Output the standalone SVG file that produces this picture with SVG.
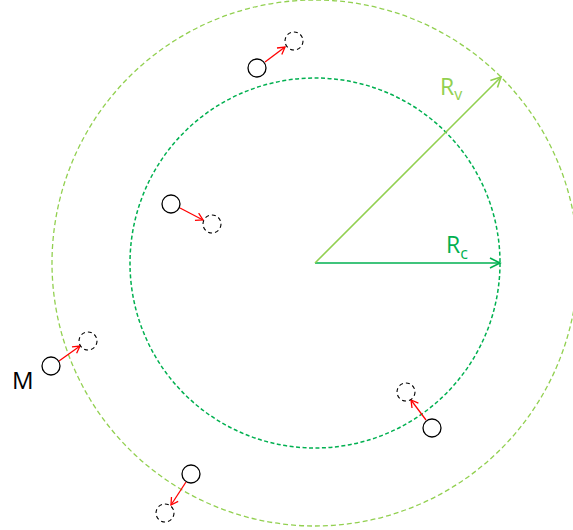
<svg xmlns="http://www.w3.org/2000/svg" width="573" height="530" viewBox="0 0 573 530">
<defs>
<style>
.solid{fill:#fff;stroke:#000;stroke-width:1.3}
.ghost{fill:none;stroke:#000;stroke-width:1.1;stroke-dasharray:4 3}
.move{stroke:#ff0000;stroke-width:1.3;fill:none;marker-end:url(#ar)}
.lbl{font-family:"Open Sans","Liberation Sans",sans-serif}
</style>
<marker id="ar" markerWidth="10" markerHeight="10" refX="8" refY="5" orient="auto" markerUnits="userSpaceOnUse">
<path d="M1,1 L8,5 L1,9" fill="none" stroke="#ff0000" stroke-width="1.3"/>
</marker>
<marker id="ag" markerWidth="14" markerHeight="14" refX="12" refY="7" orient="auto" markerUnits="userSpaceOnUse">
<path d="M2,2 L12,7 L2,12" fill="none" stroke="#00B050" stroke-width="1.6"/>
</marker>
<marker id="alg" markerWidth="14" markerHeight="14" refX="12" refY="7" orient="auto" markerUnits="userSpaceOnUse">
<path d="M2,2 L12,7 L2,12" fill="none" stroke="#92D050" stroke-width="1.6"/>
</marker>
</defs>
<g id="outer-circle"><circle cx="315" cy="263" r="263" fill="none" stroke="#92D050" stroke-width="1.3" stroke-dasharray="5 3"/></g>
<g id="inner-circle"><circle cx="315" cy="263" r="185" fill="none" stroke="#00B050" stroke-width="1.5" stroke-dasharray="4 2.5"/></g>
<g id="connectors">
<line x1="315" y1="263" x2="500" y2="263" stroke="#00B050" stroke-width="1.6" marker-end="url(#ag)"/>
<line x1="315" y1="263" x2="501" y2="77" stroke="#92D050" stroke-width="1.6" marker-end="url(#alg)"/>
<line class="move" x1="265" y1="62" x2="285" y2="47"/>
<line class="move" x1="180" y1="208" x2="203" y2="220"/>
<line class="move" x1="59" y1="361" x2="80" y2="346"/>
<line class="move" x1="426" y1="420" x2="411" y2="400"/>
<line class="move" x1="186" y1="482" x2="171" y2="505"/>
</g>
<g id="p1"><circle class="solid" cx="257" cy="68" r="9"/><circle class="ghost" cx="294" cy="41" r="9"/></g>
<g id="p2"><circle class="solid" cx="171" cy="204" r="9"/><circle class="ghost" cx="212" cy="224" r="9"/></g>
<g id="p3"><circle class="solid" cx="51" cy="366" r="9"/><circle class="ghost" cx="88" cy="341" r="9"/>
<text class="lbl" x="12" y="389" font-size="24" fill="#000">M</text></g>
<g id="p4"><circle class="solid" cx="432" cy="428" r="9"/><circle class="ghost" cx="406" cy="392" r="9"/></g>
<g id="p5"><circle class="solid" cx="191" cy="474" r="9"/><circle class="ghost" cx="165" cy="513" r="9"/></g>
<g id="label-rv"><text class="lbl" x="440" y="95" font-size="23" fill="#92D050">R<tspan font-size="16" dy="5">v</tspan></text></g>
<g id="label-rc"><text class="lbl" x="446" y="253" font-size="23" fill="#00B050">R<tspan font-size="16" dy="6">c</tspan></text></g>
</svg>
